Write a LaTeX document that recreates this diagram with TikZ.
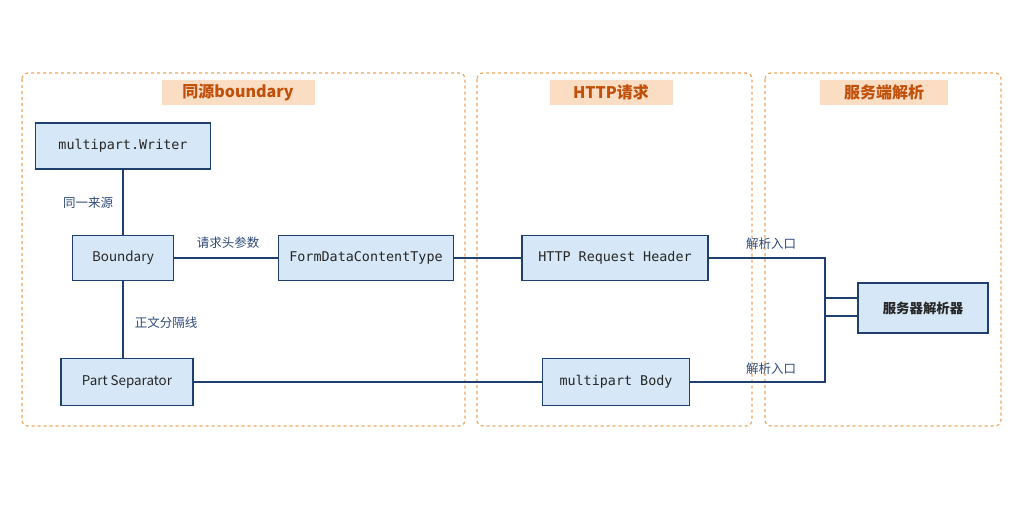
\documentclass[tikz,border=0pt]{standalone}
\usepackage{fontspec}
\setmainfont{Noto Sans CJK SC}
\newfontfamily\monof{DejaVu Sans Mono}
\usetikzlibrary{positioning}
\definecolor{boxfill}{HTML}{D6E8F7}
\definecolor{boxline}{HTML}{1F3F6E}
\definecolor{grpline}{HTML}{EBA55E}
\definecolor{ttlfill}{HTML}{FBDDC4}
\definecolor{ttltext}{HTML}{C0500A}
\definecolor{lbltext}{HTML}{2E4A78}
\tikzset{
  Box/.style={draw=boxline,line width=1.8pt,fill=boxfill,text=black!85,font=\monof\fontsize{13.4}{15}\selectfont,inner sep=0pt},
  Grp/.style={draw=grpline,dashed,line width=1.2pt,rounded corners=6pt},
  Ttl/.style={fill=ttlfill,text=ttltext,font=\fontsize{16}{18}\selectfont\bfseries,inner sep=0pt,minimum height=25pt},
  Lbl/.style={text=lbltext,font=\fontsize{12.5}{14}\selectfont},
  Link/.style={draw=boxline,line width=1.6pt}
}
\begin{document}
\begin{tikzpicture}[x=1pt,y=-1pt]
\useasboundingbox (0,0) rectangle (1024,512);
% groups
\draw[Grp] (22,73) rectangle (465,426);
\draw[Grp] (477,73) rectangle (752,426);
\draw[Grp] (765,73) rectangle (1001,426);
\node[Ttl,minimum width=153pt] (t1) at (238,92) {同源boundary};
\node[Ttl,minimum width=123pt] (t2) at (611,92) {HTTP请求};
\node[Ttl,minimum width=128pt] (t3) at (884,92) {服务端解析};
% boxes
\node[Box,minimum width=175pt,minimum height=46pt] (writer) at (123,146) {multipart.Writer};
\node[Box,minimum width=101pt,minimum height=45pt,font=\fontsize{13.4}{15}\selectfont] (bnd) at (123,258) {Boundary};
\node[Box,minimum width=175pt,minimum height=45pt] (fdct) at (366,258) {FormDataContentType};
\node[Box,minimum width=186pt,minimum height=45pt] (hdr) at (615,258) {HTTP Request Header};
\node[Box,minimum width=132pt,minimum height=47pt,font=\fontsize{13.4}{15}\selectfont] (psep) at (127,382) {Part Separator};
\node[Box,minimum width=147pt,minimum height=47pt] (body) at (616,382) {multipart Body};
\node[Box,minimum width=130pt,minimum height=50pt,font=\fontsize{13.4}{15}\selectfont\bfseries] (srv) at (923,308) {服务器解析器};
% links
\draw[Link] (writer) -- (bnd);
\draw[Link] (bnd) -- (bnd |- psep.north);
\draw[Link] (bnd) -- (fdct);
\draw[Link] (fdct) -- (hdr);
\draw[Link] (psep) -- (body);
\coordinate (j1) at (825,258);
\coordinate (j2) at (825,382);
\draw[Link] (hdr.east) -- (j1) |- ([yshift=-8pt]srv.west);
\draw[Link] (body.east) -- (j2) |- ([yshift=10pt]srv.west);
% labels
\node[Lbl] (l1) at (88,203) {同一来源};
\node[Lbl] (l2) at (228,243) {请求头参数};
\node[Lbl] (l3) at (166,323) {正文分隔线};
\node[Lbl] (l4) at (771,244) {解析入口};
\node[Lbl] (l5) at (771,369) {解析入口};
\end{tikzpicture}
\end{document}
